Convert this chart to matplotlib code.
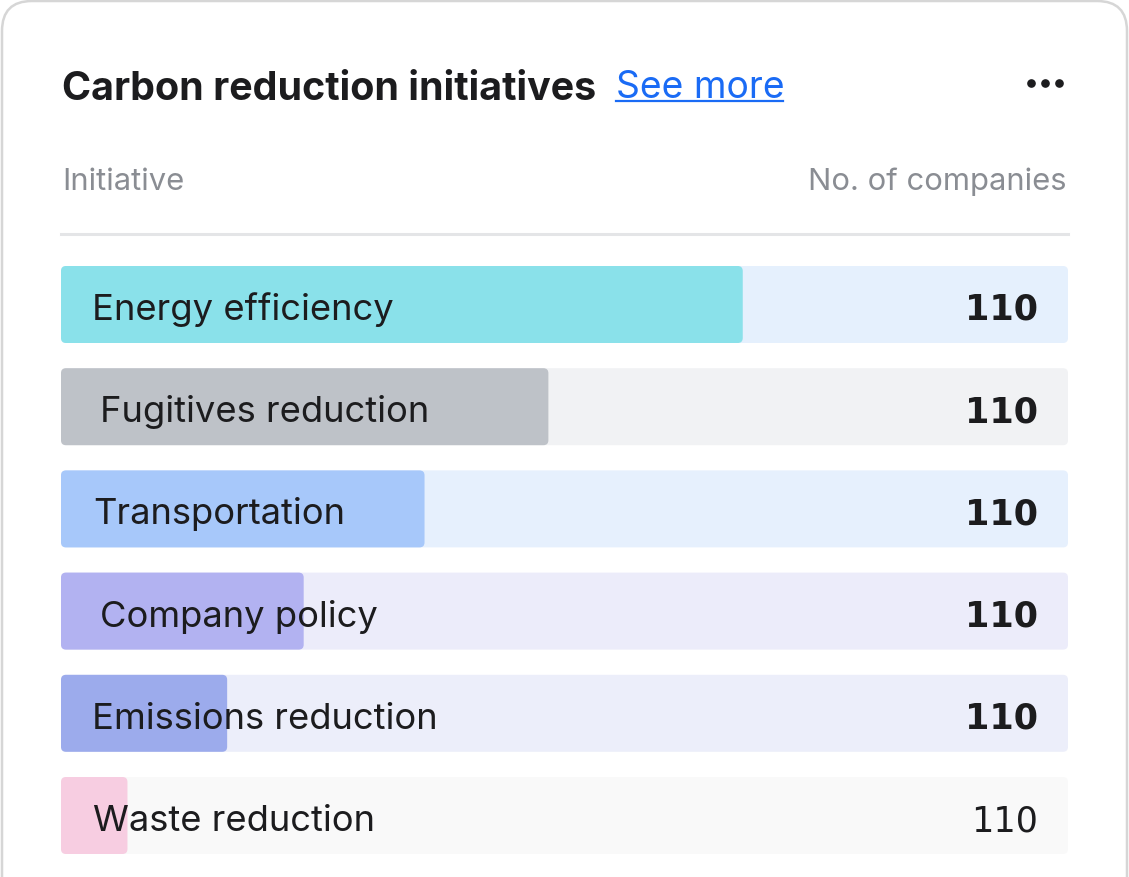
import matplotlib
matplotlib.use('Agg')
import matplotlib.pyplot as plt
from matplotlib.patches import FancyBboxPatch
from matplotlib.transforms import offset_copy
from matplotlib.lines import Line2D

plt.rcParams['font.family'] = ['Inter', 'DejaVu Sans']

# ── data ─────────────────────────────────────────────────────────────────────
initiatives = ['Energy efficiency', 'Fugitives reduction', 'Transportation',
               'Company policy', 'Emissions reduction', 'Waste reduction']
share       = [67.7, 48.4, 36.1, 24.1, 16.5, 6.6]      # bar fill, % of track
companies   = [110, 110, 110, 110, 110, 110]

# ── style ────────────────────────────────────────────────────────────────────
FILL  = ['#8AE1EA', '#BEC2C8', '#A7C8FA', '#B2B2F1', '#9CABEC', '#F7CDE1']
TRACK = ['#E5F0FD', '#F1F2F4', '#E6F0FD', '#ECECFA', '#ECEEFA', '#F9F9F9']
LABEL_PAD = [31, 39, 32, 39, 31, 32]    # px from track start
VAL_BOLD  = [True, True, True, True, True, False]
DARK  = '#1C1C1E'
GREY  = '#8A8D93'
LINK  = '#1A6BF5'

W, H = 1129, 878
fig = plt.figure(figsize=(W / 100, H / 100), dpi=100)
fig.patch.set_facecolor('white')

# card background / border (pixel coordinates via a full-figure axes)
bg = fig.add_axes([0, 0, 1, 1])
bg.set_xlim(0, W)
bg.set_ylim(H, 0)
bg.axis('off')
bg.add_patch(FancyBboxPatch((2, 2), W - 4, H + 60,
                            boxstyle='round,pad=0,rounding_size=30',
                            facecolor='white', edgecolor='#D6D6D6', linewidth=1.8))

bg.text(62, 100, 'Carbon reduction initiatives', fontsize=28.4, fontweight='bold',
        color=DARK, va='baseline', ha='left')
bg.text(616, 98.5, 'See more', fontsize=26.8, color=LINK, va='baseline', ha='left')
bg.add_line(Line2D([616, 783], [102, 102], color=LINK, linewidth=1.6))
for dx in (1031, 1045, 1059):
    bg.plot(dx, 84, 'o', color=DARK, markersize=5.2)

bg.text(62, 190, 'Initiative', fontsize=22.3, color=GREY, va='baseline', ha='left')
bg.text(1066, 190, 'No. of companies', fontsize=22.3, color=GREY, va='baseline', ha='right')
bg.add_line(Line2D([61, 1068], [235, 235], color='#E4E5E7', linewidth=2.2))

# ── bars ─────────────────────────────────────────────────────────────────────
row = 102.2
top = 305.5 - row / 2
ax = fig.add_axes([61 / W, 1 - (top + row * 6) / H, 1007 / W, row * 6 / H])
ax.set_xlim(0, 100)
ax.set_ylim(len(initiatives) - 0.5, -0.5)
ax.axis('off')
ax.patch.set_alpha(0)

bar_h = 77 / row
px_x = 100 / 1007          # data units per px (x)
px_y = 1 / row             # data units per px (y)
r = 5 * px_x
asp = px_y / px_x

tracks = ax.barh(range(len(initiatives)), [100] * len(initiatives), height=bar_h)
fills = ax.barh(range(len(initiatives)), share, height=bar_h)
for bars, cols in ((tracks, TRACK), (fills, FILL)):
    for b, c in zip(bars, cols):
        b.set_visible(False)
        ax.add_patch(FancyBboxPatch((b.get_x(), b.get_y()), b.get_width(), b.get_height(),
                                    boxstyle=f'round,pad=0,rounding_size={r}',
                                    mutation_aspect=asp, facecolor=c, edgecolor='none'))

for i, (name, n) in enumerate(zip(initiatives, companies)):
    t = offset_copy(ax.transData, fig=fig, x=LABEL_PAD[i], y=-14.5, units='dots')
    ax.text(0, i, name, transform=t, fontsize=26.2, color=DARK, va='baseline', ha='left')
    tv = offset_copy(ax.transData, fig=fig, x=-30, y=-14.5, units='dots')
    ax.text(100, i, f'{n}', transform=tv, fontsize=25.2, color=DARK, va='baseline',
            ha='right', family='DejaVu Sans',
            fontweight='bold' if VAL_BOLD[i] else 'normal')

plt.savefig('out.png', dpi=100, facecolor='white')
plt.close()
